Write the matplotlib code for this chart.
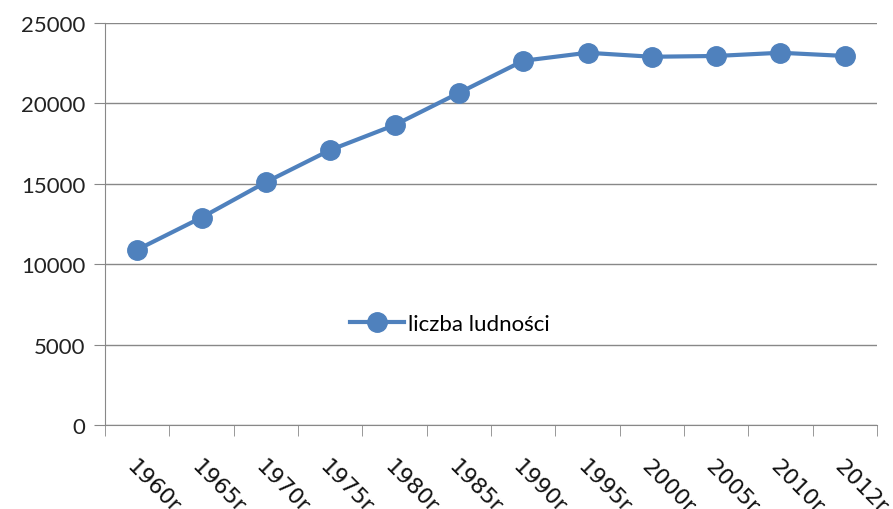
import numpy as np
import matplotlib.pyplot as plt
from matplotlib.ticker import FixedLocator

years = ['1960r', '1965r', '1970r', '1975r', '1980r', '1985r',
         '1990r', '1995r', '2000r', '2005r', '2010r', '2012r']
ludnosc = [10900, 12900, 15100, 17100, 18650, 20650,
           22650, 23150, 22900, 22950, 23150, 22950]
y_ticks = [0, 5000, 10000, 15000, 20000, 25000]

blue = '#4F81BD'
grey = '#888888'

fig = plt.figure(figsize=(8.93, 5.10), dpi=100)
ax = fig.add_axes([105 / 893, 1 - 426 / 510, 772 / 893, 402 / 510])

x = np.arange(len(years))
ax.plot(x, ludnosc, color=blue, lw=3, marker='o', markersize=14,
        label='liczba ludności')

ax.set_xlim(-0.5, len(years) - 0.5)
ax.set_ylim(0, 25000)
ax.set_yticks(y_ticks)
ax.set_yticklabels([str(v) for v in y_ticks], fontfamily='Lato', fontsize=16,
                   color='#222222')
ax.yaxis.grid(True, color=grey, lw=1)
ax.set_axisbelow(True)

# year labels are cut at the bottom edge, as in the original
ax.set_xticks(x)
ax.set_xticklabels(years, rotation=-45, ha='left', va='top',
                   rotation_mode='anchor', fontsize=16, color='#111111')
ax.xaxis.set_minor_locator(FixedLocator(np.arange(-0.5, len(years), 1)))
ax.tick_params(axis='x', which='major', length=0, pad=22)
ax.tick_params(axis='x', which='minor', length=8, color=grey)
ax.tick_params(axis='y', length=8, color=grey, pad=6)

for s in ['top', 'right']:
    ax.spines[s].set_visible(False)
ax.spines['left'].set_color(grey)
ax.spines['bottom'].set_color(grey)

ax.legend(loc='center', bbox_to_anchor=(0.447, 0.251), frameon=False,
          prop={'family': 'Lato', 'size': 16}, handlelength=2.4,
          handletextpad=0.2)

fig.savefig('out.png', dpi=100)
